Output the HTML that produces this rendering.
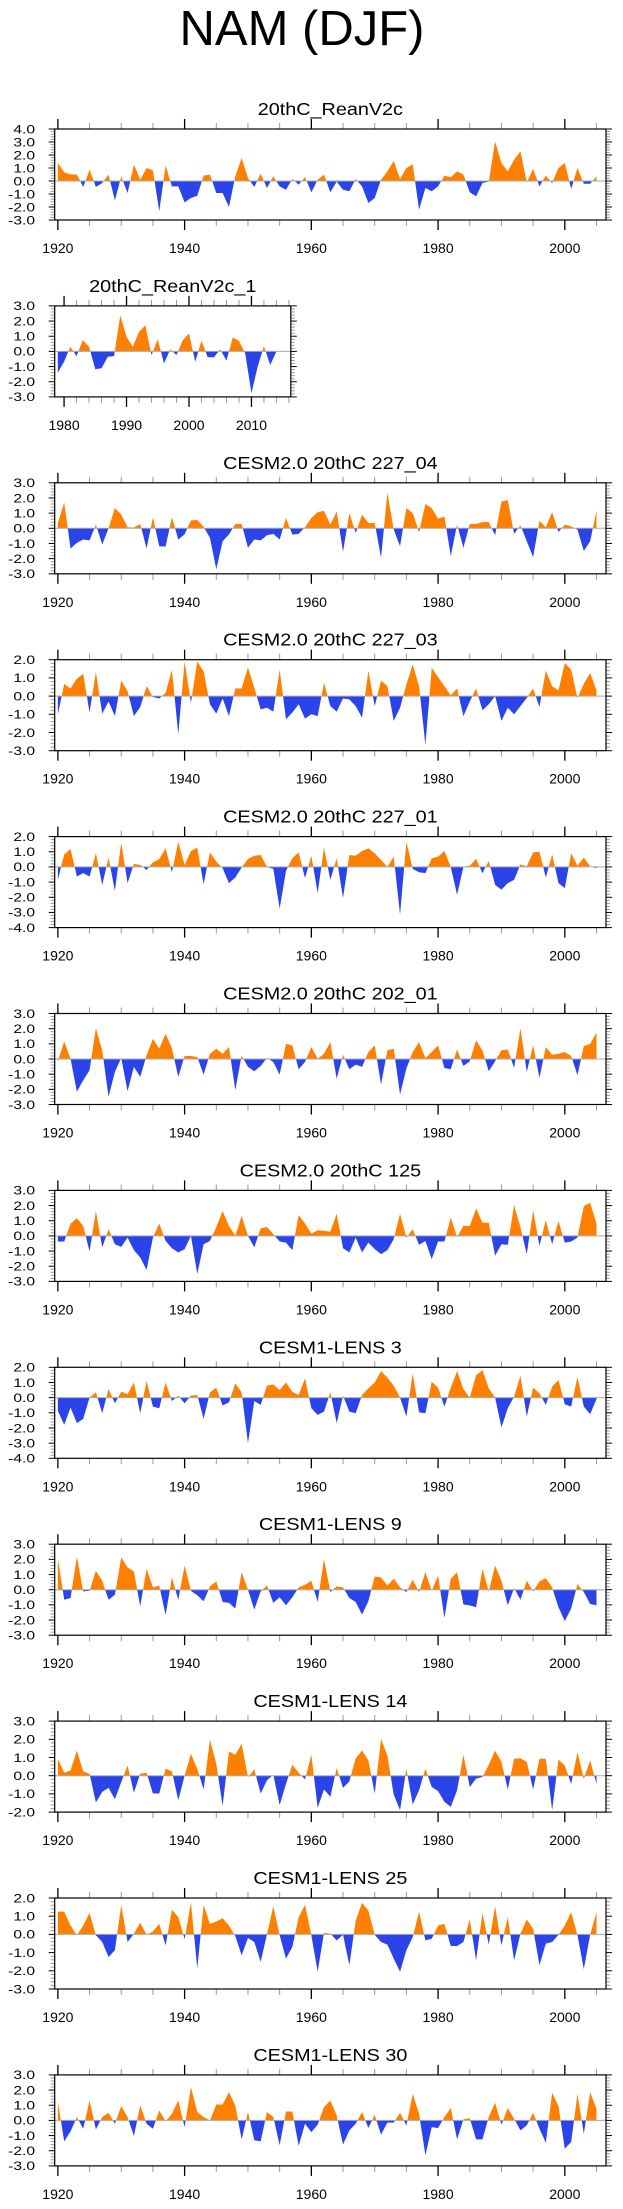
<!DOCTYPE html>
<html><head><meta charset="utf-8">
<style>
html,body{margin:0;padding:0;background:#fff;}
svg{display:block;font-family:"Liberation Sans",Arial,sans-serif;}
</style></head>
<body>
<svg id="fig" xmlns="http://www.w3.org/2000/svg" width="623" height="2209" viewBox="0 0 623 2209">
<rect width="623" height="2209" fill="#fff"/>
<text x="302" y="45" font-size="49" text-anchor="middle" fill="#000">NAM (DJF)</text>
</svg>
<script>
const panelTitles = ["20thC_ReanV2c","20thC_ReanV2c_1","CESM2.0 20thC 227_04","CESM2.0 20thC 227_03","CESM2.0 20thC 227_01","CESM2.0 20thC 202_01","CESM2.0 20thC 125","CESM1-LENS 3","CESM1-LENS 9","CESM1-LENS 14","CESM1-LENS 25","CESM1-LENS 30"];
const startYears = [1920,1979,1920,1920,1920,1920,1920,1920,1920,1920,1920,1920];
const yMaxs = [4,3,3,2,2,3,3,2,3,3,2,3];
const yMins = [-3,-3,-3,-3,-4,-3,-3,-4,-3,-2,-3,-3];
const s1 = [1.38,0.67,0.51,0.5,-0.46,0.87,-0.46,-0.15,0.49,-1.49,0.36,-0.92,1.26,0.1,1.0,0.82,-2.33,1.18,-0.41,-0.41,-1.64,-1.31,-1.13,0.41,0.49,-0.92,-0.92,-2.0,0.36,1.77,0.23,-0.46,0.56,-0.54,0.36,-0.41,-0.67,0.15,-0.28,0.31,-0.87,0.1,0.49,-0.87,-0.05,-0.67,-0.79,0.15,-0.41,-1.69,-1.31,0.1,0.74,1.54,0.15,1.0,1.28,-2.2,-0.54,-0.79,-0.41,0.41,0.28,0.74,0.49,-0.87,-1.18,-0.15,-0.05,3.05,1.38,0.74,1.64,2.28,-0.1,0.92,-0.41,0.41,-0.15,1.0,1.38,-0.62,1.0,-0.21,-0.21,0.36];
const s2 = [-1.4,-0.68,0.31,-0.31,0.74,0.31,-1.18,-1.11,-0.35,-0.31,2.38,0.96,0.31,1.29,1.72,-0.24,0.79,-0.79,0.13,-0.24,0.74,1.18,-0.68,0.7,-0.39,-0.39,0.13,-0.61,0.92,0.7,-0.13,-2.75,-1.0,0.35,-0.9,0];
const s3 = [0.35,1.7,-1.33,-0.96,-0.74,-0.8,0.24,-1.07,0,1.33,0.9,0.07,0.05,0.28,-1.33,0.72,-1.18,-1.2,0.74,-0.74,-0.4,0.52,0.55,0.1,-0.63,-2.7,-0.85,-0.41,0.28,0.28,-1.28,-0.74,-0.8,-0.46,-0.37,-0.74,0.68,-0.41,-0.37,0.07,0.68,1.07,1.15,0.24,1.1,-1.55,1.0,-0.3,0.9,0.35,0.35,-1.94,2.35,-0.09,-1.18,1.33,1.0,-0.24,1.6,1.33,0.63,0.78,-1.83,0.24,-1.28,0.28,0.28,0.41,0.41,-0.46,1.76,1.87,-0.37,0.2,-0.85,-1.9,0.5,0.07,1.07,-0.24,0.24,0.13,-0.09,-1.5,-0.85,1.15];
const s4 = [-1.0,0.67,0.42,0.96,1.22,-0.9,1.33,-0.96,-0.3,-1.1,0.85,0.27,-1.1,-0.6,0.55,-0.05,-0.13,0.18,1.45,-2.1,1.9,-0.36,1.9,1.36,-0.45,-0.96,-0.13,-1.1,0.42,0.42,1.58,0.45,-0.73,-0.64,-0.85,1.45,-1.27,-0.9,-0.45,-1.24,-1.0,-1.1,0.73,-0.55,-0.85,-0.13,-0.18,-0.55,-1.18,1.4,-0.55,0.85,0.55,-1.36,-0.64,0.64,1.73,0.55,-2.67,1.55,1.04,0.55,0.05,0.42,-1.1,-0.3,0.42,-0.78,-0.45,0,-1.36,-0.64,-1.0,-0.55,-0.1,0.42,-0.6,1.4,0.55,0.31,1.82,1.45,-0.1,0.67,1.27,0.31];
const s5 = [-0.85,0.83,1.18,-0.63,-0.41,-0.63,0.9,-1.18,0.61,-1.57,1.62,-1.07,0.2,0.13,-0.2,0.3,0.52,1.22,-0.35,1.66,0.13,1.05,1.27,-1.14,0.96,0.35,-0.09,-1.07,-0.7,-0.04,0.52,0.74,0.79,0,-0.13,-2.75,-0.26,0.57,0.96,-0.74,0.74,-1.72,1.27,-0.85,0.57,-2.05,0.79,0.74,1.05,1.22,0.9,0.46,0,0.68,-3.14,1.66,-0.13,-0.35,-0.41,0.57,0.68,1.05,0,-1.83,0,0.09,0.52,-0.41,0.39,-1.18,-1.5,-1.07,-0.85,0.17,0.04,0.96,1.0,-0.7,0.83,-1.07,-1.4,0.9,0.09,0.61,0.04,-0.09];
const s6 = [-0.15,1.16,0.02,-2.16,-1.4,-0.74,2.03,0.57,-2.49,-0.85,0.07,-2.12,-0.52,-1.18,0.24,1.33,0.68,1.66,0.72,-1.18,0.2,0.2,0.13,-1.03,0.35,0.68,0.35,0.79,-2.05,0.24,-0.52,-0.81,-0.46,0.07,-0.2,-1.03,1.0,0.9,-0.68,-0.2,0.79,0.02,0.35,1.11,-1.29,0.28,-0.68,-0.37,-0.52,0.46,0.9,-1.68,0.57,0.68,-2.34,-0.63,0.46,1.11,0.07,0.46,0.9,-0.59,-0.68,0.63,-0.46,-0.15,1.22,0.57,-0.81,-0.15,0.57,0.63,-0.59,2.03,-0.85,0.9,-1.24,0.79,0.28,0.35,0.46,0.2,-1.07,0.85,1.0,1.72];
const s7 = [-0.37,-0.37,0.81,1.16,0.66,-1.03,1.64,-0.76,0.44,-0.55,-0.72,-0.11,-0.94,-1.42,-2.25,-0.11,0.81,-0.33,-0.81,-1.09,-0.87,0,-2.51,-0.55,-0.33,0.59,1.64,0.66,0,1.31,0,-0.76,0.5,0.59,0.11,-0.37,-0.44,-0.94,1.38,0.81,0.15,0.37,0.33,0.28,1.46,-0.81,-1.09,-0.11,-1.09,-0.44,-0.87,-1.2,-0.94,-0.22,1.46,-0.11,0.44,-0.59,-0.33,-1.53,-0.37,-0.37,1.2,-0.07,0.66,0.66,1.81,0.87,0.87,-1.31,-0.55,-0.59,2.03,0.55,-1.2,1.68,-0.66,1.03,-0.55,0.98,-0.44,-0.37,-0.11,1.96,2.18,0.81];
const s8 = [-0.87,-1.79,-0.66,-1.68,-1.4,0,0.35,-1.03,0.57,-0.37,0.39,0.22,1.0,-1.03,1.09,-0.59,-0.7,1.0,-0.22,0.13,-0.37,0.13,0.17,-1.4,0.35,0.66,-0.52,-0.31,0.94,0.35,-2.99,-0.22,-0.48,0.79,0.87,0.5,1.0,0.39,0.17,1.27,-0.7,-1.14,-0.92,0.35,-1.68,0.13,-0.92,-1.03,0.17,0.61,1.0,1.75,1.31,0.79,0,-1.24,1.59,-0.96,-1.03,1.05,0.66,-0.59,0.66,1.75,0.57,0,1.48,1.81,0.61,0,-1.97,-0.7,0.07,1.44,-1.24,0.66,0.28,-0.48,0.72,1.16,-0.44,-0.59,1.37,-0.59,-1.09,-0.1];
const s9 = [2.07,-0.66,-0.55,2.18,-0.11,-0.07,1.24,0.59,-0.66,-0.33,2.12,1.46,1.2,-1.09,1.38,0.15,0.28,-1.68,0.81,-0.66,1.59,-0.07,-0.37,-0.76,0.22,0.55,-0.81,-0.87,-1.24,1.16,0,-1.31,-0.11,0.28,-0.87,-0.5,-1.03,-0.5,0.15,0.33,0.59,-0.81,2.03,-0.15,0.22,0.15,-0.55,-0.81,-1.64,-0.76,0.87,0.81,0.28,0.72,0.15,-0.15,0.66,-0.15,1.16,-0.07,0.94,-1.86,0.72,1.16,-0.98,-1.03,-1.16,1.38,-0.11,1.59,0.59,-1.03,0.11,-0.66,0.59,-0.11,0.55,0.76,0.15,-1.16,-2.07,-1.24,0.37,-0.15,-0.94,-1.03];
const s10 = [0.93,0.16,0.29,1.38,0.24,0.11,-1.47,-0.89,-0.67,-1.29,-0.35,0.56,-0.93,0.11,0.16,-0.98,-0.98,0.38,0.24,-1.35,0,1.2,0.38,-0.75,1.98,0.65,-1.65,1.33,1.15,1.75,-0.07,0.35,-0.98,-0.25,0.05,-1.62,-0.45,0.6,0.16,-0.2,1.15,-1.76,-0.75,-1.16,0.42,-0.67,-0.31,0.96,1.38,0.84,-0.98,2.02,1.11,-1.05,-1.89,0.38,-1.58,-0.8,0.38,-0.62,-0.85,-1.44,-1.71,-0.8,1.15,-0.62,-0.16,-0.07,0.6,1.38,0.75,-0.75,0.93,0.96,0.75,-0.75,0.93,0.93,-1.89,0.89,0.56,-0.45,1.29,-0.16,0.84,-0.45];
const s11 = [1.25,1.25,0.49,-0.05,0.49,1.18,-0.05,-0.42,-1.24,-0.87,1.62,-0.42,0.04,0.64,-0.02,0.16,0.58,-0.6,1.36,0.95,-0.27,1.76,-1.87,1.62,0.58,0.71,0.89,0.49,-0.09,-1.15,-0.2,-0.42,-1.51,0,1.55,-0.05,-1.33,-0.69,0.95,1.62,-0.05,-2.05,0.09,0.04,-0.33,-0.02,-1.69,0.76,1.73,1.31,-0.02,-0.42,-0.56,-1.33,-2.05,-0.87,-0.15,1.25,-0.33,-0.24,0.49,0.58,-0.64,-0.64,-0.42,0.82,-1.42,1.18,-0.56,1.55,-0.6,0.95,-1.42,0.04,0.82,0.31,-1.69,-0.51,-0.42,-0.02,0.49,1.22,-0.05,-1.91,-0.02,1.22];
const s12 = [1.25,-1.38,-0.72,0.22,-0.55,1.31,-0.59,0.22,0.5,-0.22,0.94,0.22,-1.03,0.98,-0.22,-0.55,0.66,-0.07,0.44,1.31,-0.44,2.19,0.55,0.22,0,1.05,1.05,1.86,0.98,-1.25,0.55,-1.31,-1.38,0.55,0.22,-1.64,0.59,0.59,-1.68,-0.22,-0.77,-0.28,0.88,1.31,0.33,-1.6,-0.66,-0.22,0.55,-0.5,0.37,-0.94,-0.15,-0.15,0.5,-0.33,1.75,0.44,-2.3,-0.44,-0.5,0.22,0.81,-1.25,0.07,0.15,-1.25,-1.25,0.22,1.16,-0.28,0.81,0.11,-0.66,-0.33,0.5,-0.55,-1.47,1.82,0.94,-1.86,-1.42,1.75,-0.88,1.86,0.77];
const series = [s1,s2,s3,s4,s5,s6,s7,s8,s9,s10,s11,s12];

const NS = "http://www.w3.org/2000/svg";
const svg = document.getElementById("fig");
function mk(tag, attrs, parent){
  const e = document.createElementNS(NS, tag);
  for (const k in attrs) e.setAttribute(k, attrs[k]);
  (parent||svg).appendChild(e);
  return e;
}

for (let p = 0; p < 12; p++) {
  const data = series[p];
  const top = 129 + p * 176.9;
  const bottom = top + 91;
  const left = 54.7;
  const right = p === 1 ? 290.8 : 606;
  const x0 = p === 1 ? 1978.5 : 1919.5;
  const x1 = p === 1 ? 2016.3 : 2006.5;
  const yMax = yMaxs[p], yMin = yMins[p];
  const xs = v => left + (v - x0) / (x1 - x0) * (right - left);
  const ys = v => top + (yMax - v) / (yMax - yMin) * (bottom - top);

  const g = mk("g", {});
  
  

  const title = mk("text", {x: 0, y: 0, "font-size": 18, "text-anchor": "middle", fill: "#000",
    transform: "translate(" + ((left + right) / 2) + "," + (top - 14) + ") scale(1.1,1)"}, g);
  title.textContent = panelTitles[p];
  
  

  // build points with zero crossings
  const pts = [];
  for (let i = 0; i < data.length; i++) {
    const yr = startYears[p] + i, v = data[i];
    if (i > 0) {
      const pv = data[i - 1];
      if ((pv > 0 && v < 0) || (pv < 0 && v > 0)) {
        const t = pv / (pv - v);
        pts.push([yr - 1 + t, 0]);
      }
    }
    pts.push([yr, v]);
  }
  const first = pts[0][0], last = pts[pts.length - 1][0];
  function poly(fn) {
    let d = "M" + xs(first) + "," + ys(0);
    pts.forEach(q => { d += "L" + xs(q[0]).toFixed(2) + "," + ys(fn(q[1])).toFixed(2); });
    d += "L" + xs(last) + "," + ys(0) + "Z";
    return d;
  }
  const pos = mk("path", {d: poly(v => Math.max(v, 0)), fill: "#ff8000", stroke: "none"}, g);
  
  
  const neg = mk("path", {d: poly(v => Math.min(v, 0)), fill: "#2a44ea", stroke: "none"}, g);
  
  
  const zl = mk("line", {x1: left, x2: right, y1: ys(0), y2: ys(0), stroke: "#aaa", "stroke-width": 1}, g);
  
  

  // y ticks
  for (let k = Math.round(yMin * 5); k <= Math.round(yMax * 5); k++) {
    const v = k / 5, y = ys(v), major = (k % 5 === 0);
    const len = major ? 6 : 4, col = major ? "#000" : "#999";
    mk("line", {x1: left - len, x2: left, y1: y, y2: y, stroke: col, "stroke-width": 1}, g);
    mk("line", {x1: right, x2: right + len, y1: y, y2: y, stroke: col, "stroke-width": 1}, g);
    if (major) {
      const t = mk("text", {x: 0, y: 0, "font-size": 12, "text-anchor": "end", fill: "#000",
        transform: "translate(35," + (y + 4.3) + ") scale(1.3,1)"}, g);
      t.textContent = v.toFixed(1);
      
      
    }
  }
  // x ticks
  const minorStep = p === 1 ? 2 : 5, majorStep = p === 1 ? 10 : 20;
  for (let yr = Math.ceil(x0); yr <= x1; yr++) {
    if (yr % minorStep !== 0) continue;
    const x = xs(yr), major = (yr % majorStep === 0);
    const len = major ? 10 : 6, col = major ? "#000" : "#999", sw = major ? 1.3 : 1;
    mk("line", {x1: x, x2: x, y1: top - len, y2: top, stroke: col, "stroke-width": sw}, g);
    mk("line", {x1: x, x2: x, y1: bottom, y2: bottom + len, stroke: col, "stroke-width": sw}, g);
    if (major) {
      const t = mk("text", {x: x, y: bottom + 33, "font-size": 14, "text-anchor": "middle", fill: "#000"}, g);
      t.textContent = yr;
      
      
    }
  }
  const fr = mk("rect", {x: left, y: top, width: right - left, height: bottom - top, fill: "none", stroke: "#000", "stroke-width": 1.2}, g);
  
  
}
</script>
</body></html>
